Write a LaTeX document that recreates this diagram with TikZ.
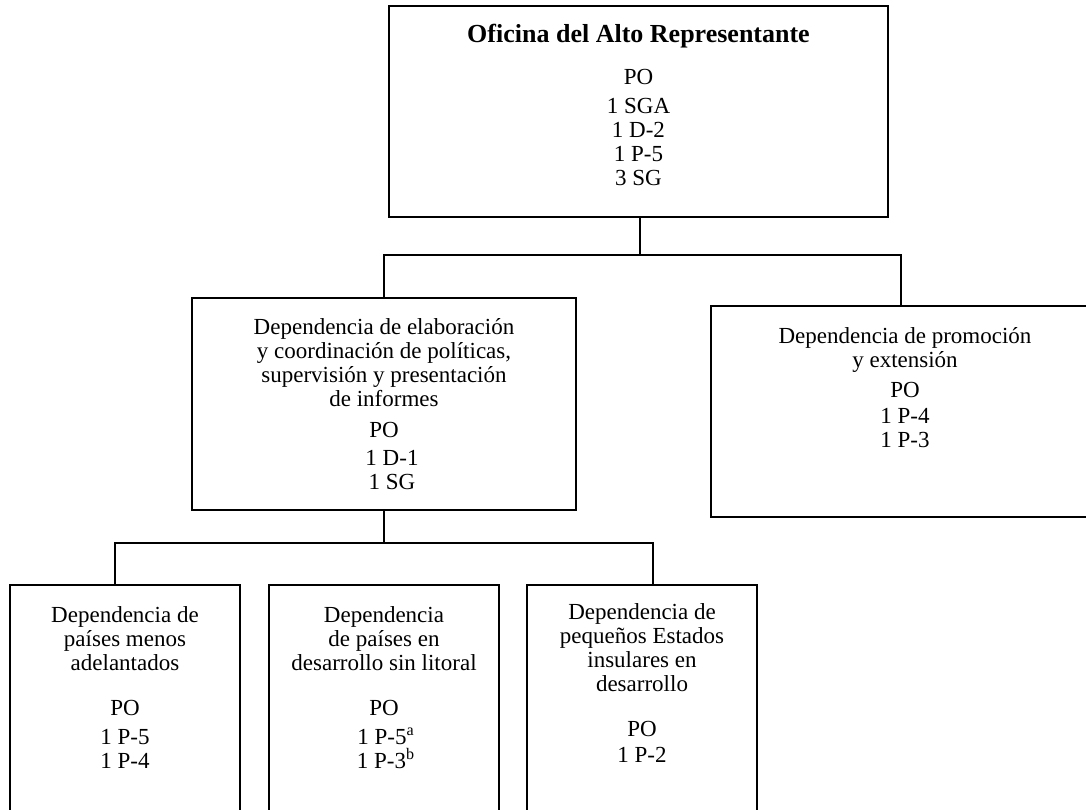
\documentclass[tikz,border=0pt]{standalone}
\usepackage{fontspec}
\setmainfont{Liberation Serif}
\usetikzlibrary{calc}

\begin{document}
\begin{tikzpicture}[-, x=0.5pt, y=-0.5pt, line width=1pt, box/.style={draw, line width=1pt, inner sep=0pt}, txt/.style={inner sep=0pt, anchor=base, align=center, font=\fontsize{11.5}{12}\selectfont}, ttl/.style={inner sep=0pt, anchor=base, font=\fontsize{13}{15}\selectfont\bfseries}]
\clip (0,0) rectangle (1086,809);
\node[box, minimum width=249.5pt, minimum height=105.5pt] (ofi) at (638.5,111.5) {};
\node[box, minimum width=192pt, minimum height=106pt] (coord) at (384,404) {};
\node[box, minimum width=189.5pt, minimum height=105.5pt] (prom) at (900.5,411.5) {};
\node[box, minimum width=115pt, minimum height=122.5pt] (pma) at (125,707.5) {};
\node[box, minimum width=115pt, minimum height=122.5pt] (pdsl) at (384,707.5) {};
\node[box, minimum width=115pt, minimum height=122.5pt] (peid) at (642,707.5) {};
\node[ttl] (ofit) at (638.5,42) {Oficina del Alto Representante};
\node[txt] (ofipo) at (638.5,84) {PO};
\node[txt] (ofil) at (638.5,185) {1 SGA\\1 D-2\\1 P-5\\3 SG};
\node[txt] (coordt) at (384,406) {Dependencia de elaboración\\y coordinación de políticas,\\supervisión y presentación\\de informes};
\node[txt] (coordpo) at (384,437) {PO};
\node[txt] (coordl) at (392,489) {1 D-1\\1 SG};
\node[txt] (promt) at (905,367) {Dependencia de promoción\\y extensión};
\node[txt] (prompo) at (905,397) {PO};
\node[txt] (proml) at (905,447) {1 P-4\\1 P-3};
\node[txt] (pmat) at (125,670) {Dependencia de\\países menos\\adelantados};
\node[txt] (pmapo) at (125,715) {PO};
\node[txt] (pmal) at (125,768) {1 P-5\\1 P-4};
\node[txt] (pdslt) at (384,670) {Dependencia\\de países en\\desarrollo sin litoral};
\node[txt] (pdslpo) at (384,715) {PO};
\node[txt] (pdsll) at (386,768) {1 P-5\textsuperscript{a}\\1 P-3\textsuperscript{b}};
\node[txt] (peidt) at (642,691) {Dependencia de\\pequeños Estados\\insulares en\\desarrollo};
\node[txt] (peidpo) at (642,736) {PO};
\node[txt] (peidl) at (642,762) {1 P-2};
\coordinate (bus1) at (640,255);
\coordinate (bus2L) at (115,543);
\coordinate (bus2R) at (653,543);
\draw (ofi.south -| bus1) -- (bus1);
\draw (coord.north) |- (bus1) -| (prom.north);
\draw (coord.south) -- (coord.south |- bus2L);
\draw (pma.north -| bus2L) -- (bus2L) -- (bus2R) -- (peid.north -| bus2R);
\end{tikzpicture}
\end{document}
